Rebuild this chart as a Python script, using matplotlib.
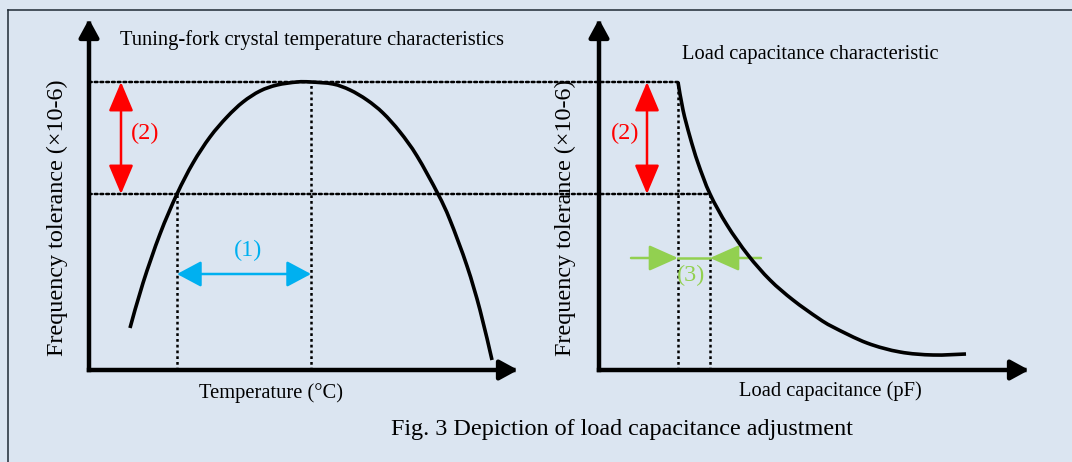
import matplotlib.pyplot as plt
from matplotlib.patches import ConnectionPatch, PathPatch
from matplotlib.path import Path
from matplotlib.lines import Line2D

# ---------------------------------------------------------------------------
# values (arbitrary units, origin at each axis corner)
# ---------------------------------------------------------------------------
# left: tuning-fork crystal, frequency tolerance vs temperature
temp = [41, 54, 71, 88, 104, 121, 138, 154, 171, 188, 208, 222,
        244, 261, 278, 294, 311, 328, 349, 361, 378, 391, 403]
temp_tol = [42, 87, 136, 176, 207, 233, 253, 268, 279, 285, 288, 288,
            286, 280, 270, 257, 238, 214, 176, 150, 104, 60, 10]

# right: frequency tolerance vs load capacitance
cap = [79, 84, 91, 99, 111, 128, 149, 171, 194, 219, 234, 268, 301, 334, 367]
cap_tol = [288, 260, 233, 207, 176, 145, 115, 90, 70, 52, 43, 27, 18, 15, 16]

tol_levels = [288, 176]          # peak and lower tolerance limit
temp_marks = [88, 222]           # temperatures at lower limit / peak
cap_marks = [79, 111]            # capacitances at peak / lower limit

titles = ['Tuning-fork crystal temperature characteristics',
          'Load capacitance characteristic']
xlabels = ['Temperature (\u00b0C)', 'Load capacitance (pF)']
ylabel = 'Frequency tolerance (\u00d710-6)'
caption = 'Fig. 3 Depiction of load capacitance adjustment'

# ---------------------------------------------------------------------------
bg = '#dbe5f1'
red = '#ff0000'
blue = '#00b0f0'
green = '#92d050'
dot = (0, (1.1, 1.2))
W, H = 1072, 462

plt.rcParams['font.family'] = ['Liberation Serif', 'DejaVu Serif']


def smooth_path(xs, ys):
    # bezier path through the read points (Catmull-Rom tangents)
    pts = list(zip(xs, ys))
    verts = [pts[0]]
    codes = [Path.MOVETO]
    n = len(pts)
    for i in range(n - 1):
        p0 = pts[max(i - 1, 0)]
        p1 = pts[i]
        p2 = pts[i + 1]
        p3 = pts[min(i + 2, n - 1)]
        c1 = (p1[0] + (p2[0] - p0[0]) / 6, p1[1] + (p2[1] - p0[1]) / 6)
        c2 = (p2[0] - (p3[0] - p1[0]) / 6, p2[1] - (p3[1] - p1[1]) / 6)
        verts += [c1, c2, p2]
        codes += [Path.CURVE4] * 3
    return Path(verts, codes)


fig = plt.figure(figsize=(W / 100, H / 100), dpi=100, facecolor=bg)

axL = fig.add_axes([89 / W, 92 / H, 429 / W, 351 / H])
axR = fig.add_axes([599 / W, 92 / H, 430 / W, 351 / H])
for ax, xmax in ((axL, 429), (axR, 430)):
    ax.set_xlim(0, xmax)
    ax.set_ylim(0, 351)
    ax.axis('off')
    # axis arrows
    for tip in ((1, 0), (0, 1)):
        ax.annotate('', xy=tip, xytext=(0, 0), xycoords='axes fraction',
                    textcoords='axes fraction',
                    arrowprops=dict(arrowstyle='-|>,head_length=0.55,head_width=0.3',
                                    mutation_scale=20, lw=3.2, color='black',
                                    shrinkA=0, shrinkB=0, capstyle='projecting'))

# curves
for ax, xs, ys in ((axL, temp, temp_tol), (axR, cap, cap_tol)):
    ax.add_patch(PathPatch(smooth_path(xs, ys), fill=False, edgecolor='black',
                           lw=2.6, capstyle='butt', clip_on=False, zorder=4))

# dotted guide lines
for x, top in zip(temp_marks, [tol_levels[1], tol_levels[0]]):
    axL.plot([x, x], [0, top], color='black', lw=1.8, ls=dot,
             clip_on=False, zorder=2)
for x, top in zip(cap_marks, tol_levels):
    axR.plot([x, x], [0, top], color='black', lw=1.8, ls=dot,
             clip_on=False, zorder=2)
for y, x_end in zip(tol_levels, cap_marks):
    con = ConnectionPatch(xyA=(0, y), coordsA=axL.transData,
                          xyB=(x_end, y), coordsB=axR.transData,
                          color='black', lw=1.8, linestyle=dot, zorder=2)
    fig.add_artist(con)

# (2) tolerance range arrows
arr2 = dict(arrowstyle='<|-|>,head_length=0.9,head_width=0.38',
            mutation_scale=20, lw=1.8, color=red, shrinkA=0, shrinkB=0)
axL.annotate('', xy=(32, tol_levels[0]), xytext=(32, tol_levels[1]),
             arrowprops=arr2)
axR.annotate('', xy=(48, tol_levels[0]), xytext=(48, tol_levels[1]),
             arrowprops=arr2)
axL.text(56, 237, '(2)', color=red, fontsize=17.5, ha='center', va='center')
axR.text(26, 237, '(2)', color=red, fontsize=17.5, ha='center', va='center')

# (1) temperature range arrow
axL.annotate('', xy=(temp_marks[1], 96), xytext=(temp_marks[0], 96),
             arrowprops=dict(arrowstyle='<|-|>,head_length=0.75,head_width=0.4',
                             mutation_scale=20, lw=1.8, color=blue,
                             shrinkA=0, shrinkB=0))
axL.text(159, 120, '(1)', color=blue, fontsize=17.5, ha='center', va='center')

# (3) capacitance adjustment arrows
arr3 = dict(arrowstyle='-|>,head_length=0.9,head_width=0.4',
            mutation_scale=20, lw=1.8, color=green, shrinkA=0, shrinkB=0)
axR.plot(cap_marks, [112, 112], color=green, lw=1.8, zorder=3)
axR.annotate('', xy=(cap_marks[0], 112), xytext=(32, 112), arrowprops=arr3)
axR.annotate('', xy=(cap_marks[1], 112), xytext=(162, 112), arrowprops=arr3)
axR.text(92, 95, '(3)', color=green, fontsize=17.5, ha='center', va='center')

# titles and labels
axL.text(223, 330, titles[0], fontsize=14.8, ha='center', va='center')
axR.text(211, 315, titles[1], fontsize=14.8, ha='center', va='center')
axL.text(182, -23, xlabels[0], fontsize=14.8, ha='center', va='center')
axR.text(231, -21, xlabels[1], fontsize=14.8, ha='center', va='center')
axL.text(-32, 152, ylabel, fontsize=17.4, rotation=90, ha='center', va='center')
axR.text(-34, 152, ylabel, fontsize=17.4, rotation=90, ha='center', va='center')
fig.text(622 / W, 1 - 430 / H, caption, fontsize=17.4, ha='center', va='center')

# frame
fig.add_artist(Line2D([7.5 / W, 7.5 / W], [0, 1 - 9.7 / H], color='#1f2a35', lw=1.1))
fig.add_artist(Line2D([7.5 / W, 1], [1 - 9.7 / H, 1 - 9.7 / H], color='#1f2a35', lw=1.1))

fig.savefig('out.png', dpi=100, facecolor=bg)
